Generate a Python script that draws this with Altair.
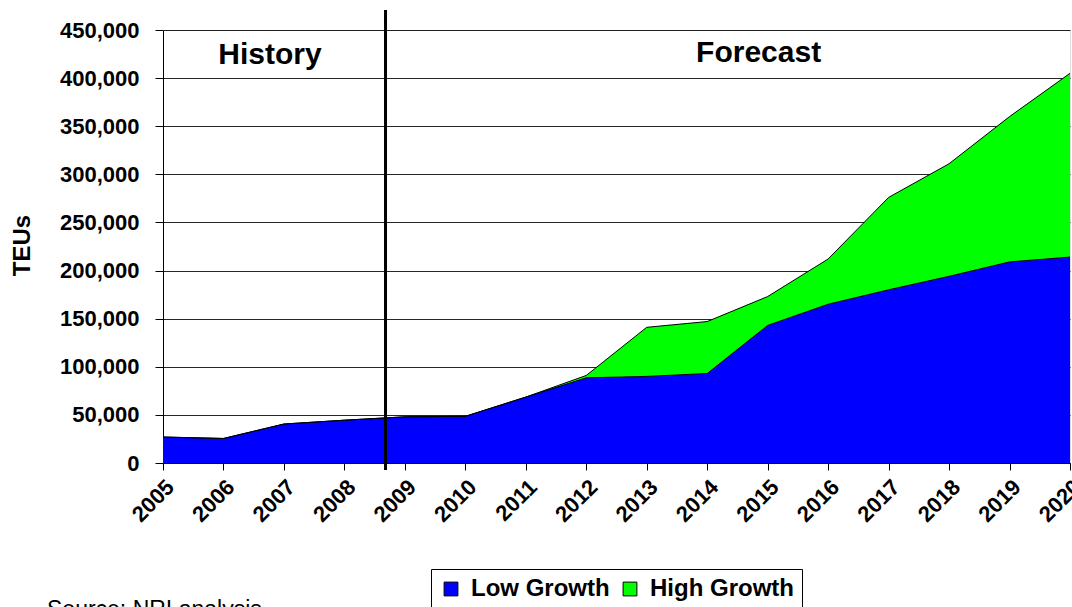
import altair as alt
import pandas as pd

years = list(range(2005, 2021))
low_growth = [27000, 25500, 40500, 44500, 48000, 48500, 68500, 88500, 90000, 93000,
              143000, 165000, 180000, 194000, 209000, 214000]
high_growth = [27000, 25500, 40500, 44500, 48000, 48500, 68500, 91000, 141000, 147000,
               173000, 212000, 276000, 311000, 360000, 405000]
series_names = ["Low Growth", "High Growth"]
series_colors = ["#0000FF", "#00FF00"]
y_ticks = list(range(0, 450001, 50000))
divider_year = 2008.68
annotations = ["History", "Forecast"]
annotation_x = [2006.77, 2014.85]
annotation_y = [424000, 426000]
source_note = "Source: NRI analysis"

FONT = "Liberation Sans"

low_df = pd.DataFrame({"Year": years, "TEUs": low_growth, "Series": series_names[0]})
high_df = pd.DataFrame({"Year": years, "TEUs": high_growth, "Series": series_names[1]})

x_enc = alt.X("Year:Q",
              scale=alt.Scale(domain=[2005, 2020], nice=False, zero=False),
              axis=alt.Axis(values=years, format="d", labelAngle=-45, title=None,
                            grid=False, labelFont=FONT, labelFontSize=22,
                            labelFontWeight="bold", labelColor="black",
                            tickColor="black", domainColor="black", tickSize=7,
                            labelPadding=6, labelOverlap=False, labelBound=False))
y_enc = alt.Y("TEUs:Q",
              scale=alt.Scale(domain=[0, 450000], nice=False),
              axis=alt.Axis(values=y_ticks, format=",d", title="TEUs",
                            grid=True, gridColor="black", gridOpacity=0.85,
                            gridWidth=1, labelFont=FONT, labelFontSize=22,
                            labelFontWeight="bold", labelColor="black",
                            titleFont=FONT, titleFontSize=24, titleFontWeight="bold",
                            titleColor="black", titleX=-141, titleY=215,
                            titleAngle=270, titleAlign="center", titleBaseline="middle",
                            tickColor="black", domainColor="black", tickSize=8,
                            labelPadding=16))
color_enc = alt.Color("Series:N",
                      scale=alt.Scale(domain=series_names, range=series_colors),
                      legend=alt.Legend(orient="none", legendX=268, legendY=539,
                                        direction="horizontal", title=None,
                                        symbolType="square", symbolSize=190,
                                        symbolStrokeColor="black", symbolStrokeWidth=1,
                                        symbolOpacity=1,
                                        labelFont=FONT, labelFontSize=24,
                                        labelFontWeight="bold", labelColor="black",
                                        labelLimit=300,
                                        strokeColor="black", fillColor="white",
                                        padding=8, columnPadding=8, labelOffset=8))

high_area = alt.Chart(high_df).mark_area(opacity=1).encode(x=x_enc, y=y_enc, color=color_enc)
low_area = alt.Chart(low_df).mark_area(opacity=1).encode(x=x_enc, y=y_enc, color=color_enc)
high_line = alt.Chart(high_df).mark_line(color="black", strokeWidth=1).encode(x="Year:Q", y="TEUs:Q")
low_line = alt.Chart(low_df).mark_line(color="black", strokeWidth=1).encode(x="Year:Q", y="TEUs:Q")

divider = alt.Chart(pd.DataFrame({"Year": [divider_year]})).mark_rule(
    color="black", strokeWidth=3).encode(x="Year:Q", y=alt.value(-20), y2=alt.value(440))

ann_df = pd.DataFrame({"label": annotations, "Year": annotation_x, "TEUs": annotation_y})
ann = alt.Chart(ann_df).mark_text(font=FONT, fontSize=30, fontWeight="bold",
                                  color="black", align="center", baseline="middle").encode(
    x="Year:Q", y="TEUs:Q", text="label:N")

src = alt.Chart(pd.DataFrame({"t": [source_note]})).mark_text(
    font=FONT, fontSize=23, color="black", align="left", baseline="alphabetic").encode(
    x=alt.value(-116), y=alt.value(587), text="t:N")

chart = alt.layer(high_area, low_area, high_line, low_line, divider, ann, src).properties(
    width=907, height=433,
    autosize=alt.AutoSizeParams(type="none"),
    padding={"left": 163, "top": 30, "right": 2, "bottom": 144},
).configure_view(stroke=None).configure(background="white")

chart.save("out.html", embed_options={"renderer": "svg", "actions": False})
